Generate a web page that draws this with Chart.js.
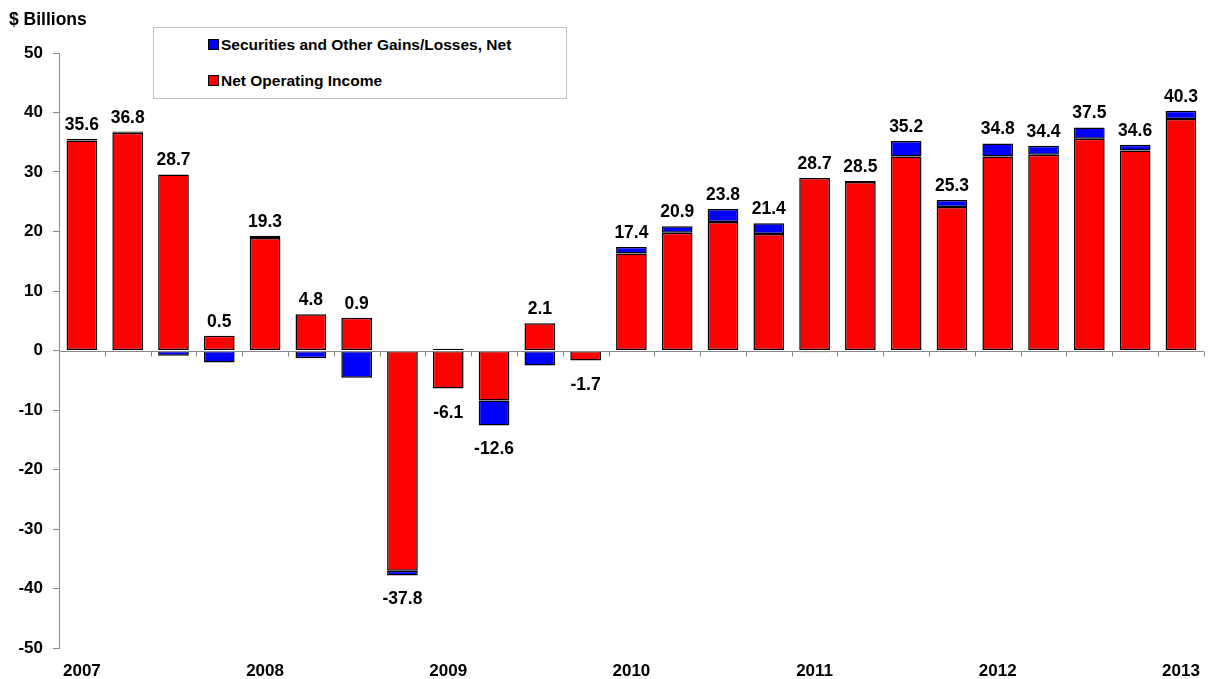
<!DOCTYPE html>
<html>
<head>
<meta charset="utf-8">
<script src="https://cdn.jsdelivr.net/npm/chart.js@4"></script>
<style>
  body { margin: 0; background: #fff; }
  #wrap { position: relative; width: 1213px; height: 679px; font-family: "Liberation Sans", Arial, sans-serif; }
  #unit { position: absolute; left: 9px; top: 9px; font-weight: bold; font-size: 17.5px; color: #000; }
  #legend { position: absolute; left: 153px; top: 27px; width: 412px; height: 70px; border: 1px solid #c0c0c0; background: #fff; }
  .item { position: absolute; left: 54px; font-weight: bold; font-size: 15.5px; color: #000; white-space: nowrap; }
  .item span { display: inline-block; width: 9px; height: 9px; border: 1px solid #000; margin-right: 2px; vertical-align: 0px; }
</style>
</head>
<body>
<div id="wrap">
  <canvas id="incomeChart" width="1213" height="679"></canvas>
  <div id="unit">$ Billions</div>
  <div id="legend">
    <div class="item" style="top:8px"><span style="background:#0000ff"></span>Securities and Other Gains/Losses, Net</div>
    <div class="item" style="top:44px"><span style="background:#ff0000"></span>Net Operating Income</div>
  </div>
</div>
<script>
// quarterly, 2007 Q1 .. 2013 Q1
var quarters = ['2007 Q1','2007 Q2','2007 Q3','2007 Q4','2008 Q1','2008 Q2','2008 Q3','2008 Q4',
    '2009 Q1','2009 Q2','2009 Q3','2009 Q4','2010 Q1','2010 Q2','2010 Q3','2010 Q4',
    '2011 Q1','2011 Q2','2011 Q3','2011 Q4','2012 Q1','2012 Q2','2012 Q3','2012 Q4','2013 Q1'];
var netOperatingIncome = [35.3, 36.6, 29.6, 2.5, 18.9, 6.1, 5.5, -37.0, -6.4, -8.4, 4.6, -1.7,
    16.3, 19.8, 21.6, 19.6, 29.0, 28.3, 32.6, 24.1, 32.6, 32.9, 35.6, 33.6, 38.9];
var securitiesGains = [0.3, 0.2, -0.9, -2.0, 0.4, -1.3, -4.6, -0.8, 0.3, -4.2, -2.5, 0.0,
    1.1, 1.1, 2.2, 1.8, -0.3, 0.2, 2.6, 1.2, 2.2, 1.5, 1.9, 1.0, 1.4];
var totals = [35.6, 36.8, 28.7, 0.5, 19.3, 4.8, 0.9, -37.8, -6.1, -12.6, 2.1, -1.7,
    17.4, 20.9, 23.8, 21.4, 28.7, 28.5, 35.2, 25.3, 34.8, 34.4, 37.5, 34.6, 40.3];
var yTicks = [-50, -40, -30, -20, -10, 0, 10, 20, 30, 40, 50];

var FONT = '"Liberation Sans", Arial, sans-serif';

// zero line with small tick marks between quarters
var zeroLine = {
    id: 'zeroLine',
    afterDatasetsDraw: function(chart) {
        var ctx = chart.ctx, x = chart.scales.x, y = chart.scales.y;
        var y0 = Math.round(y.getPixelForValue(0)) + 0.5;
        var step = x.getPixelForValue(1) - x.getPixelForValue(0);
        ctx.save();
        ctx.strokeStyle = '#888';
        ctx.lineWidth = 1;
        ctx.beginPath();
        ctx.moveTo(chart.chartArea.left, y0);
        ctx.lineTo(chart.chartArea.right, y0);
        for (var i = 1; i <= quarters.length; i++) {
            var px = Math.round(x.getPixelForValue(i) - step / 2) + 0.5;
            ctx.moveTo(px, y0);
            ctx.lineTo(px, y0 + 5);
        }
        ctx.stroke();
        ctx.restore();
    }
};

// total labels over / under each stack
var totalLabels = {
    id: 'totalLabels',
    afterDatasetsDraw: function(chart) {
        var ctx = chart.ctx, x = chart.scales.x, y = chart.scales.y;
        ctx.save();
        ctx.font = 'bold 17.5px ' + FONT;
        ctx.fillStyle = '#000';
        ctx.textAlign = 'center';
        ctx.textBaseline = 'alphabetic';
        totals.forEach(function(t, i) {
            var px = x.getPixelForValue(i);
            if (t >= 0) {
                var top = Math.max(netOperatingIncome[i], 0) + Math.max(securitiesGains[i], 0);
                ctx.fillText(t.toFixed(1), px, y.getPixelForValue(top) - 9);
            } else {
                var bot = Math.min(netOperatingIncome[i], 0) + Math.min(securitiesGains[i], 0);
                ctx.fillText(t.toFixed(1), px, y.getPixelForValue(bot) + 29);
            }
        });
        ctx.restore();
    }
};

document.addEventListener('DOMContentLoaded', function() {
    var ctx = document.getElementById('incomeChart').getContext('2d');
    new Chart(ctx, {
        type: 'bar',
        data: {
            labels: quarters,
            datasets: [{
                label: 'Net Operating Income',
                data: netOperatingIncome,
                backgroundColor: '#ff0000',
                borderColor: '#000',
                borderWidth: 1.5,
                borderSkipped: false
            }, {
                label: 'Securities and Other Gains/Losses, Net',
                data: securitiesGains,
                backgroundColor: '#0000ff',
                borderColor: '#000',
                borderWidth: 1.5,
                borderSkipped: false
            }]
        },
        options: {
            responsive: false,
            animation: false,
            datasets: { bar: { categoryPercentage: 1, barPercentage: 0.67 } },
            layout: { padding: { top: 53, right: 8, left: 0, bottom: 0 } },
            plugins: { legend: { display: false }, tooltip: { enabled: false } },
            scales: {
                x: {
                    stacked: true,
                    afterFit: function(s) { s.height = 31; },
                    grid: { display: false, drawTicks: false },
                    border: { display: false },
                    ticks: {
                        autoSkip: false,
                        maxRotation: 0,
                        padding: 13,
                        color: '#000',
                        font: { family: FONT, size: 17, weight: 'bold' },
                        callback: function(v, i) { return i % 4 === 0 ? quarters[i].slice(0, 4) : ''; }
                    }
                },
                y: {
                    stacked: true,
                    min: -50,
                    max: 50,
                    afterFit: function(s) { s.width = 59; },
                    afterBuildTicks: function(s) { s.ticks = yTicks.map(function(v) { return { value: v }; }); },
                    grid: { drawOnChartArea: false, drawTicks: true, tickLength: 6, color: '#888' },
                    border: { display: true, color: '#888' },
                    ticks: {
                        padding: 10,
                        color: '#000',
                        font: { family: FONT, size: 17, weight: 'bold' }
                    }
                }
            }
        },
        plugins: [zeroLine, totalLabels]
    });
});
</script>
</body>
</html>
